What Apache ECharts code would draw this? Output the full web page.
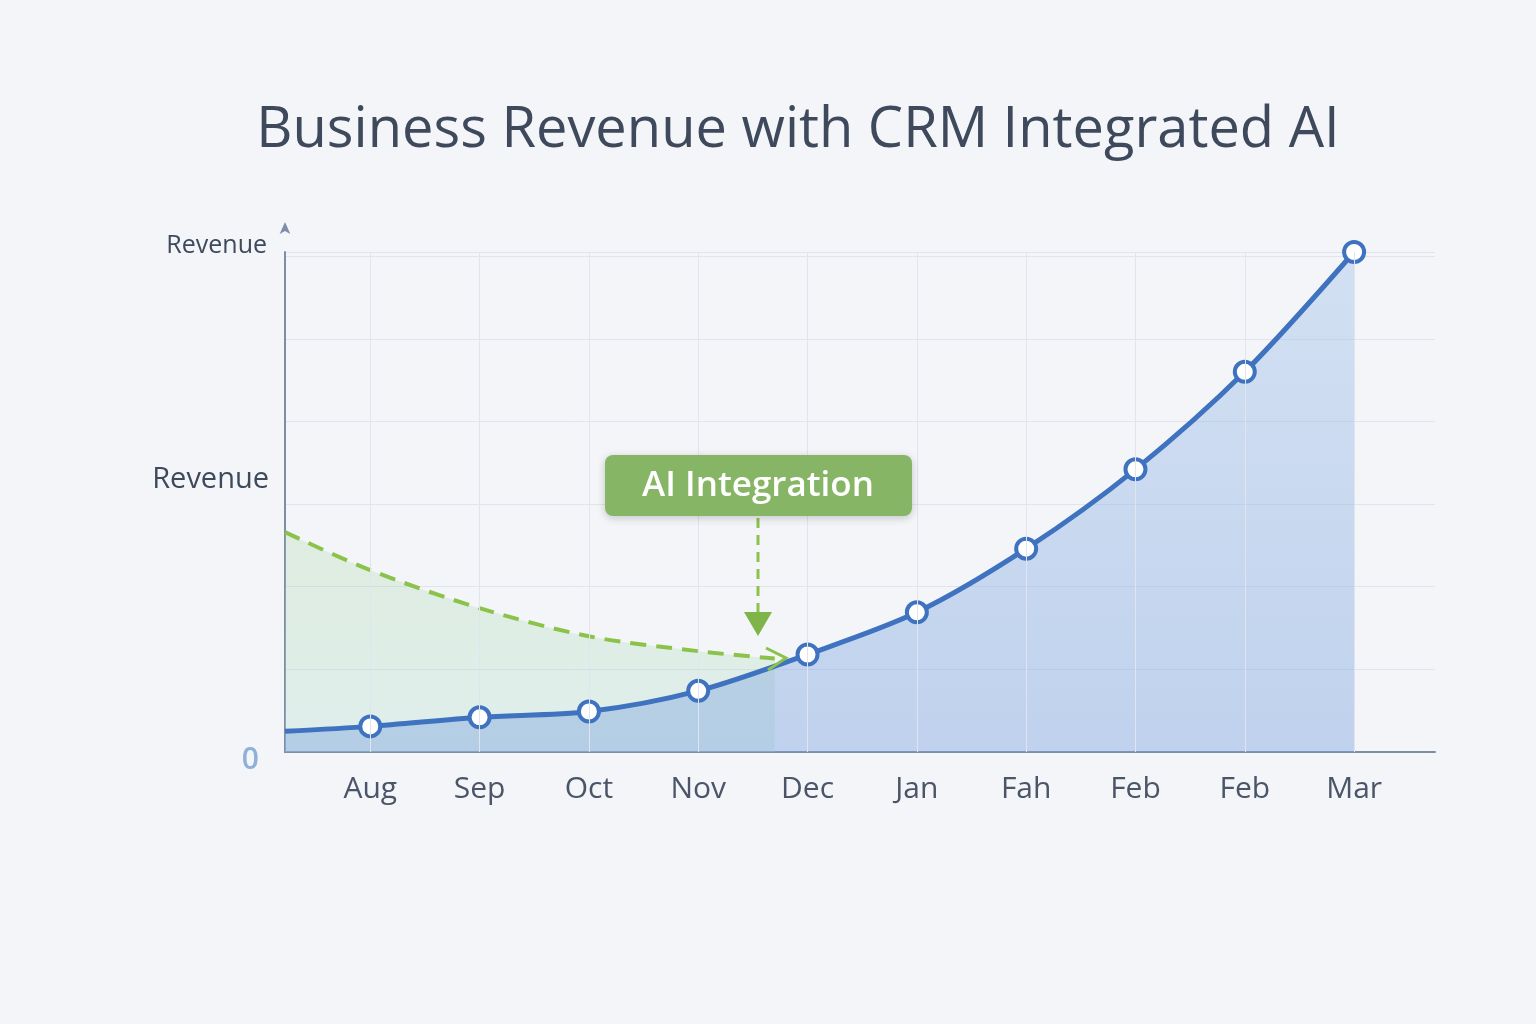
<!DOCTYPE html>
<html>
<head>
<meta charset="utf-8">
<script src="https://cdn.jsdelivr.net/npm/echarts@6/dist/echarts.min.js"></script>
<style>
  html, body { margin: 0; padding: 0; background: #f3f5f9; }
  #main { width: 1536px; height: 1024px; }
</style>
</head>
<body>
<div id="main"></div>
<script>
// months (x index 0 = Aug), the line starts a bit before Aug
var months = ['Aug', 'Sep', 'Oct', 'Nov', 'Dec', 'Jan', 'Fah', 'Feb', 'Feb', 'Mar'];
var revenueX = [-0.78, 0, 1, 2, 3, 4, 5, 6, 7, 8, 9];
var revenue = [0.25, 0.31, 0.42, 0.49, 0.74, 1.18, 1.69, 2.46, 3.42, 4.6, 6.05];
var baselineX = [-0.78, 0, 1, 2, 3, 3.7];
var baseline = [2.66, 2.2, 1.74, 1.4, 1.22, 1.13];
var yLabels = [{ v: 0, t: '0' }, { v: 3.3, t: 'Revenue' }];

var myChart = echarts.init(document.getElementById('main'));
var font = '"Open Sans", Lato, sans-serif';

var option = {
  backgroundColor: '#f3f5f9',
  animation: false,
  title: {
    text: 'Business Revenue with CRM Integrated AI',
    left: 793, top: 98, textAlign: 'center',
    textStyle: { fontSize: 56, fontWeight: 500, color: '#3e4a5c', fontFamily: font }
  },
  grid: { left: 285, right: 101, top: 252, bottom: 272 },
  xAxis: {
    type: 'value', min: -0.78, max: 9.74,
    axisLine: { show: true, onZero: false, lineStyle: { color: '#7f8ea8', width: 2 } },
    axisTick: { show: false },
    splitLine: { show: false },
    axisLabel: {
      customValues: [0, 1, 2, 3, 4, 5, 6, 7, 8, 9],
      formatter: function (v) { return months[Math.round(v)]; },
      fontSize: 30, color: '#4a5568', margin: 22, fontFamily: font
    }
  },
  yAxis: {
    type: 'value', min: 0, max: 6.05, interval: 1,
    name: 'Revenue', nameGap: 4,
    nameTextStyle: { fontSize: 25, color: '#3e4a5c', align: 'right', padding: [0, 18, -10, 0], fontFamily: font },
    axisLine: { show: true, onZero: false, symbol: ['none', 'arrow'], symbolSize: [8, 12], symbolOffset: [0, 30], lineStyle: { color: '#7f8ea8', width: 2 } },
    axisTick: { show: false },
    splitLine: { lineStyle: { color: '#dfe4ee', width: 1 } },
    axisLabel: {
      customValues: yLabels.map(function (d) { return d.v; }),
      formatter: function (v) {
        if (Math.abs(v) < 1e-6) return '{z|0}';
        for (var i = 0; i < yLabels.length; i++) if (Math.abs(yLabels[i].v - v) < 1e-6) return yLabels[i].t;
        return '';
      },
      rich: { z: { fontSize: 30, color: '#8fb0d8', fontWeight: 600, padding: [16, 10, 0, 0], fontFamily: font } },
      fontSize: 29, color: '#3e4a5c', margin: 16, fontFamily: font
    }
  },
  series: [
    {
      type: 'line', smooth: 0.3, z: 2,
      data: baselineX.map(function (x, i) { return [x, baseline[i]]; }),
      symbol: 'none',
      lineStyle: { color: '#8bc34a', width: 4, type: [16, 10] },
      areaStyle: {
        color: new echarts.graphic.LinearGradient(0, 0, 0, 1, [
          { offset: 0, color: 'rgba(160,210,150,0.35)' },
          { offset: 1, color: 'rgba(180,225,210,0.45)' }
        ])
      }
    },
    {
      type: 'line', smooth: 0.3, z: 3,
      data: revenueX.map(function (x, i) { return [x, revenue[i]]; }),
      symbol: function (v) { return v[0] < -0.5 ? 'none' : 'circle'; },
      symbolSize: 20,
      itemStyle: { color: '#ffffff', borderColor: '#3f72bf', borderWidth: 4 },
      lineStyle: { color: '#3f72bf', width: 5 },
      areaStyle: {
        color: new echarts.graphic.LinearGradient(0, 0, 0, 1, [
          { offset: 0, color: 'rgba(150,185,230,0.5)' },
          { offset: 1, color: 'rgba(120,160,220,0.6)' }
        ])
      },
      markLine: {
        silent: true, symbol: 'none', label: { show: false },
        lineStyle: { color: '#dfe4ee', width: 1, type: 'solid' },
        data: [0, 1, 2, 3, 4, 5, 6, 7, 8, 9].map(function (x) { return { xAxis: x }; })
      }
    }
  ],
  graphic: [
    { type: 'polyline', shape: { points: [[766, 648], [786, 658], [768, 670]] }, style: { stroke: '#8bc34a', lineWidth: 3, fill: 'none' }, z: 10 },
    { type: 'line', shape: { x1: 758, y1: 518, x2: 758, y2: 612 }, style: { stroke: '#8bc34a', lineWidth: 3, lineDash: [10, 7] }, z: 10 },
    { type: 'polygon', shape: { points: [[744, 612], [772, 612], [758, 636]] }, style: { fill: '#7fb548' }, z: 10 },
    {
      type: 'rect', shape: { x: 605, y: 455, width: 307, height: 61, r: 8 },
      style: { fill: '#86b565', shadowBlur: 8, shadowColor: 'rgba(0,0,0,0.2)', shadowOffsetY: 2 }, z: 10
    },
    {
      type: 'text', x: 758, y: 486, z: 11,
      style: { text: 'AI Integration', fill: '#ffffff', fontSize: 35, fontWeight: 600, fontFamily: font, align: 'center', verticalAlign: 'middle' }
    }
  ]
};
myChart.setOption(option);
</script>
</body>
</html>
